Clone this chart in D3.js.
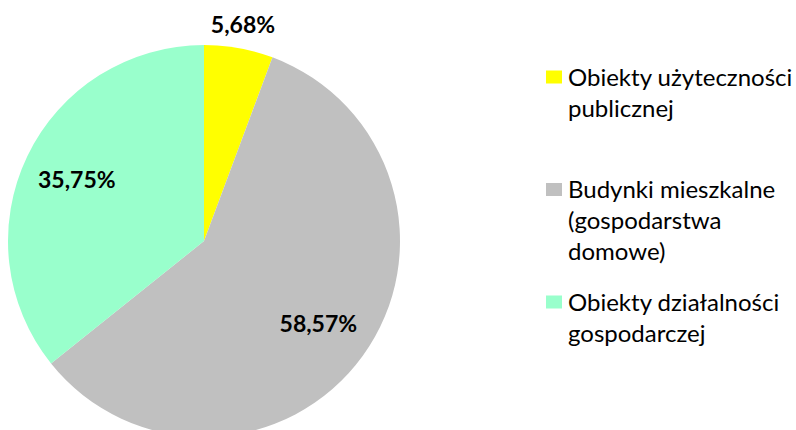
<!DOCTYPE html>
<html>
<head>
<meta charset="utf-8">
<script src="https://cdn.jsdelivr.net/npm/d3@7"></script>
<style>
  body { margin: 0; background: #fff; }
  svg text { font-family: Lato, "Open Sans", sans-serif; fill: #000; }
</style>
</head>
<body>
<div id="chart"></div>
<script>
// Data
const categories = ['Obiekty użyteczności publicznej', 'Budynki mieszkalne (gospodarstwa domowe)', 'Obiekty działalności gospodarczej'];
const legendLines = [['Obiekty użyteczności', 'publicznej'], ['Budynki mieszkalne', '(gospodarstwa', 'domowe)'], ['Obiekty działalności', 'gospodarczej']];
const values = [5.68, 58.57, 35.75];
const labels = ['5,68%', '58,57%', '35,75%'];
const colors = ['#FFFF00', '#C0C0C0', '#99FFCC'];

const width = 796, height = 430;
const cx = 204, cy = 241, radius = 196;

const svg = d3.select('#chart').append('svg')
    .attr('width', width).attr('height', height);

const color = d3.scaleOrdinal().domain(categories).range(colors);

const pie = d3.pie().sort(null).value(d => d.value);
const arcs = pie(categories.map((c, i) => ({ name: c, value: values[i], label: labels[i] })));

const arc = d3.arc().innerRadius(0).outerRadius(radius);
const g = svg.append('g').attr('transform', `translate(${cx},${cy})`);

g.selectAll('path.slice')
    .data(arcs)
    .join('path')
    .classed('slice', true)
    .attr('d', arc)
    .attr('fill', d => color(d.data.name));

// small slice gets its label outside, the others inside
const inner = d3.arc().innerRadius(radius * 0.72).outerRadius(radius * 0.72);
const outer = d3.arc().innerRadius(radius * 1.12).outerRadius(radius * 1.12);

g.selectAll('text.lbl')
    .data(arcs)
    .join('text')
    .classed('lbl', true)
    .attr('transform', d => `translate(${(d.data.value < 10 ? outer : inner).centroid(d)})`)
    .attr('text-anchor', 'middle')
    .attr('dy', '0.36em')
    .attr('font-weight', 'bold')
    .attr('font-size', 23)
    .text(d => d.data.label);

// Legend
const ly = d3.scalePoint().domain(categories).range([77, 302]);
const lineH = 31;
const items = svg.append('g').selectAll('g.item')
    .data(categories)
    .join('g')
    .classed('item', true)
    .attr('transform', d => `translate(546,${ly(d)})`);

items.append('rect')
    .attr('x', 0).attr('y', -6.5)
    .attr('width', 16).attr('height', 13)
    .attr('fill', d => color(d));

items.append('text')
    .attr('font-size', 24)
    .selectAll('tspan')
    .data((d, i) => legendLines[i])
    .join('tspan')
    .attr('x', 22)
    .attr('y', (d, j) => j * lineH)
    .attr('dy', '0.36em')
    .text(d => d);
</script>
</body>
</html>
